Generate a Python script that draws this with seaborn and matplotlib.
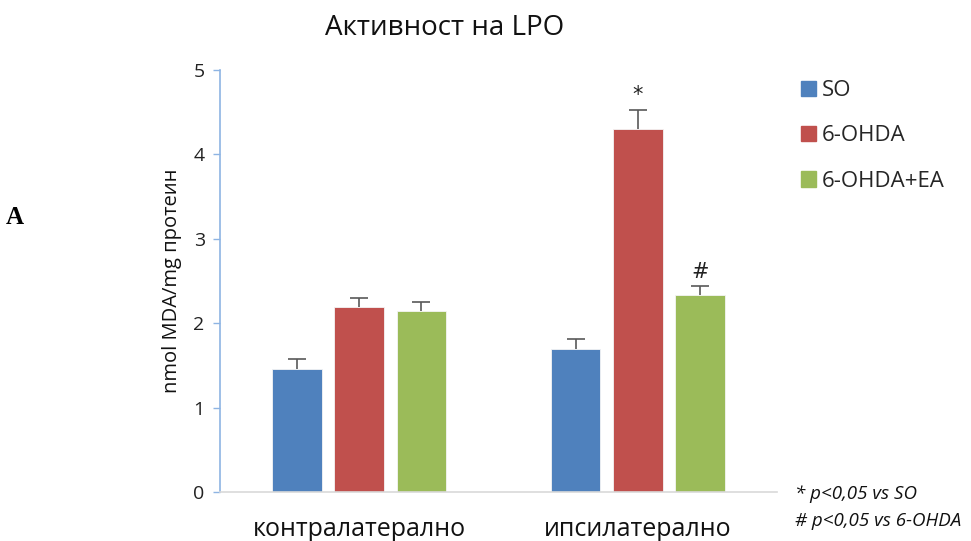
import matplotlib
matplotlib.use("Agg")
import matplotlib.pyplot as plt
import seaborn as sns
import pandas as pd
import numpy as np

# Data
sides = ["контралатерално", "ипсилатерално"]
groups = ["SO", "6-OHDA", "6-OHDA+EA"]
so_mean = [1.46, 1.69]
ohda_mean = [2.19, 4.30]
ea_mean = [2.15, 2.33]
so_err = [0.12, 0.12]
ohda_err = [0.11, 0.23]
ea_err = [0.10, 0.11]
marks = {("ипсилатерално", "6-OHDA"): "*", ("ипсилатерално", "6-OHDA+EA"): "#"}
colors = ["#4F81BD", "#C0504D", "#9BBB59"]

rows = []
for g, means, errs in zip(groups, [so_mean, ohda_mean, ea_mean], [so_err, ohda_err, ea_err]):
    for s, m, e in zip(sides, means, errs):
        rows.append({"side": s, "group": g, "value": m, "err": e})
df = pd.DataFrame(rows)

sns.set_theme(style="white")
plt.rcParams["font.family"] = ["Open Sans", "DejaVu Sans"]

fig = plt.figure(figsize=(9.71, 5.41), dpi=100)
ax = fig.add_axes([220 / 971, 49 / 541, 557 / 971, 422 / 541])

sns.barplot(data=df, x="side", y="value", hue="group", order=sides, hue_order=groups,
            palette=colors, saturation=1, width=0.67, gap=0.2, errorbar=None, ax=ax,
            edgecolor="#F4F4F4", linewidth=0.6, legend=False)

# upper-only error bars with a cap at the top, plus significance marks
for cont, g in zip(ax.containers, groups):
    for patch, s in zip(cont.patches, sides):
        r = df[(df.side == s) & (df.group == g)].iloc[0]
        xc = patch.get_x() + patch.get_width() / 2
        eb = ax.errorbar(xc, r.value, yerr=[[0], [r.err]], fmt="none", ecolor="#595959",
                         elinewidth=1.2, capsize=6.5, capthick=1.2, zorder=3)
        for cap in eb[1]:
            if np.allclose(cap.get_ydata(), r.value):
                cap.set_visible(False)
        m = marks.get((s, g))
        if m:
            ax.text(xc, r.value + r.err + 0.05, m, ha="center", va="bottom",
                    fontsize=15, color="#222222", family=["DejaVu Sans"])

ax.set_xlim(-0.5, 1.5)
ax.set_ylim(0, 5)
ax.set_yticks([0, 1, 2, 3, 4, 5])
ax.set_xlabel("")
ax.set_ylabel("nmol MDA/mg протеин", fontsize=14.5, color="#111111", labelpad=8)
ax.tick_params(axis="y", which="both", left=True, length=5, width=1, color="#8EB4E3",
               labelsize=14, labelcolor="#222222", pad=6)
ax.tick_params(axis="x", bottom=False, labelsize=18, labelcolor="#111111", pad=12)

for sp in ["top", "right"]:
    ax.spines[sp].set_visible(False)
ax.spines["left"].set_color("#8EB4E3")
ax.spines["left"].set_linewidth(1.2)
ax.spines["bottom"].set_color("#D9D9D9")
ax.spines["bottom"].set_linewidth(1.2)

fig.text(445 / 971, 1 - 28 / 541, "Активност на LPO", ha="center", va="center",
         fontsize=20, color="#111111")

handles = [plt.Rectangle((0, 0), 1, 1, color=c) for c in colors]
fig.legend(handles, groups, loc="upper left", bbox_to_anchor=(781 / 971, 1 - 60 / 541),
           frameon=False, fontsize=16, handlelength=0.68, handleheight=0.68,
           handletextpad=0.25, labelspacing=1.1)

fig.text(795 / 971, 1 - 494 / 541, "* p<0,05 vs SO", ha="left", va="center",
         fontsize=13.5, style="italic", color="#111111")
fig.text(795 / 971, 1 - 521 / 541, "# p<0,05 vs 6-OHDA", ha="left", va="center",
         fontsize=13.5, style="italic", color="#111111")

fig.text(6 / 971, 1 - 218 / 541, "A", ha="left", va="center", fontsize=18,
         fontweight="bold", family=["Liberation Serif", "DejaVu Serif"], color="black")

fig.savefig("out.png", dpi=100)
